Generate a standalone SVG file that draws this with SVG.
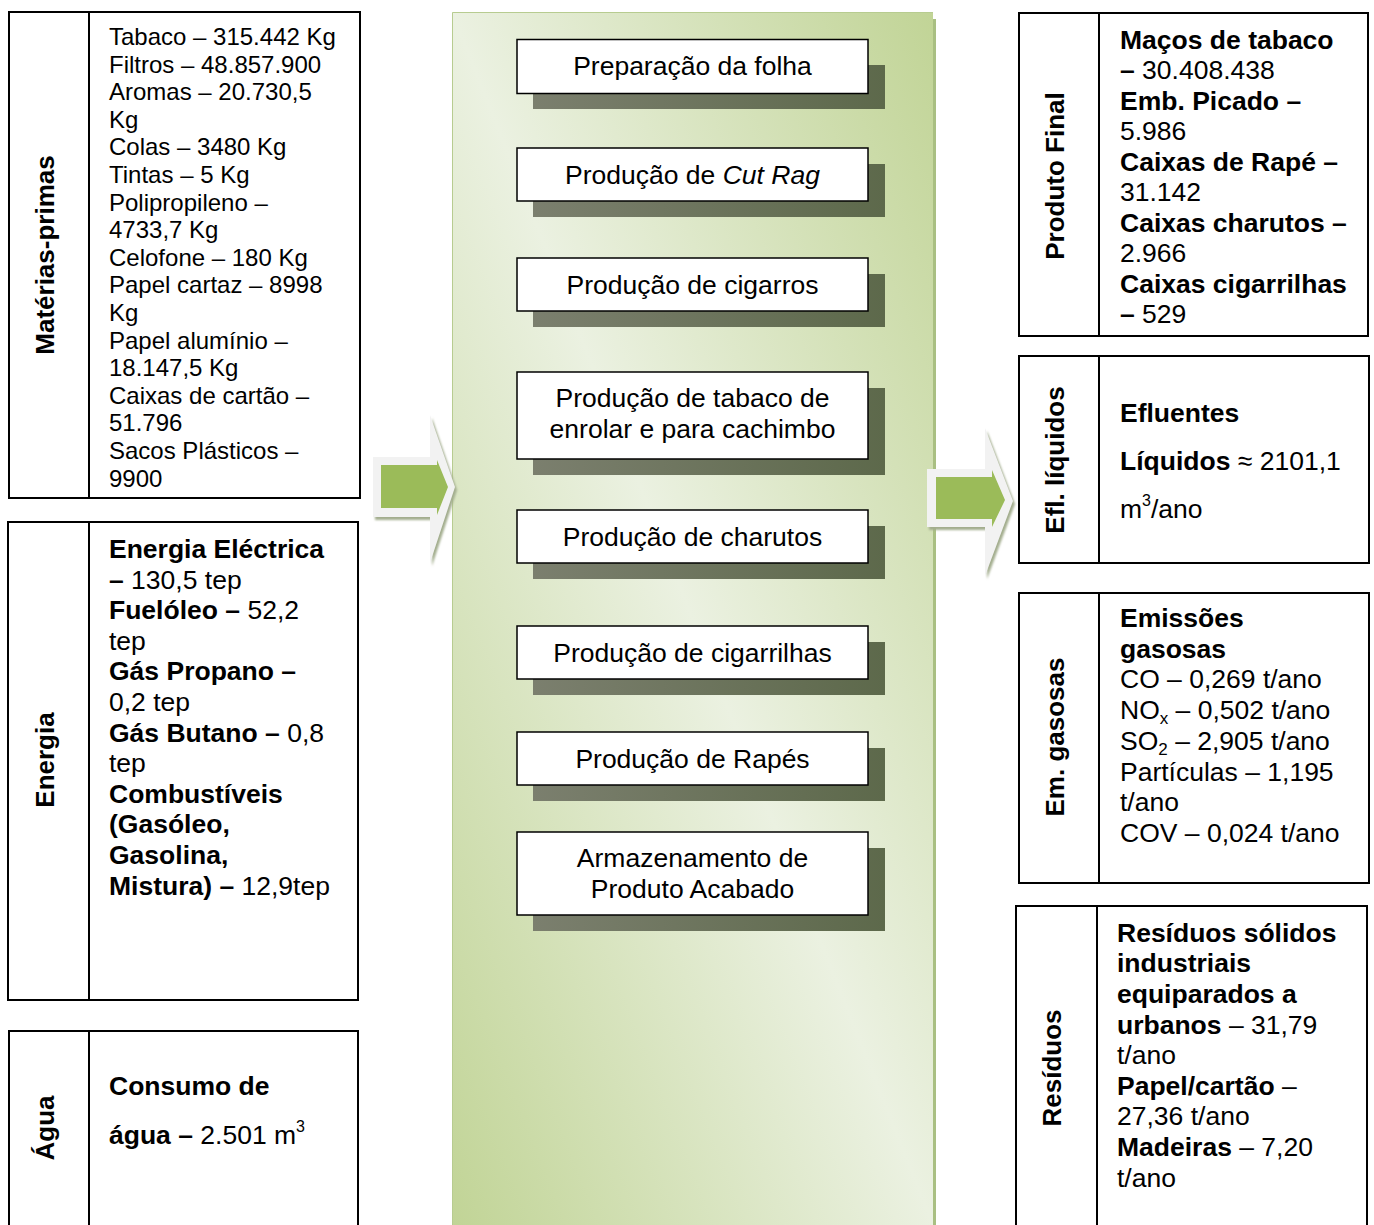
<svg xmlns="http://www.w3.org/2000/svg" width="1374" height="1225" viewBox="0 0 1374 1225">
  <defs>
    <!-- diagonal band: light along the TL-BR diagonal, green towards the other corners -->
    <linearGradient id="panelFill" x1="1" y1="0" x2="0" y2="1">
      <stop offset="0" stop-color="#c1d496"/>
      <stop offset="0.5" stop-color="#ebf1e1"/>
      <stop offset="1" stop-color="#c1d496"/>
    </linearGradient>
    <linearGradient id="shadowFill" x1="0" y1="0" x2="1" y2="0">
      <stop offset="0" stop-color="#7b7f6e"/>
      <stop offset="1" stop-color="#5d694b"/>
    </linearGradient>
    <filter id="soft" x="-10%" y="-10%" width="120%" height="120%">
      <feGaussianBlur stdDeviation="0.8"/>
    </filter>
  </defs>
  <style>
    text { font-family: "Liberation Sans", Arial, Helvetica, sans-serif; fill: #000; }
    .frame { fill: #fff; stroke: #000; stroke-width: 2; }
    .rule { stroke: #000; stroke-width: 2; }
    .lbl { font-size: 26px; font-weight: bold; text-anchor: middle; }
    .t24 { font-size: 24px; }
    .t26 { font-size: 26.5px; }
    .b { font-weight: bold; }
    .step { fill: #fff; stroke: #000; stroke-width: 1.5; }
    .stepText { font-size: 26.5px; text-anchor: middle; }
    .shadow { fill: url(#shadowFill); }
    .arrowShadow { fill: #a3ad8e; }
    .arrowOuter { fill: #f2f2f2; }
    .arrowInner { fill: #9bbb59; }
  </style>

  <rect width="1374" height="1225" fill="#fff"/>

  <!-- central process panel -->
  <g id="process-panel">
    <rect x="933" y="19" width="3" height="1206" fill="#a9bf82"/>
    <rect x="452" y="12" width="481" height="1213" fill="url(#panelFill)"/>
    <path d="M452.5,1225 V12.5 H933" fill="none" stroke="#b7cc90" stroke-width="1"/>
  </g>

  <!-- process steps -->
  <g id="step-1">
    <rect class="shadow" x="533" y="65" width="352" height="44"/>
    <rect class="step" x="517" y="39.5" width="351" height="54"/>
    <text class="stepText" x="692.5" y="75">Preparação da folha</text>
  </g>
  <g id="step-2">
    <rect class="shadow" x="533" y="164" width="352" height="53"/>
    <rect class="step" x="517" y="148" width="351" height="53"/>
    <text class="stepText" x="692.5" y="183.5">Produção de <tspan font-style="italic">Cut Rag</tspan></text>
  </g>
  <g id="step-3">
    <rect class="shadow" x="533" y="274" width="352" height="53"/>
    <rect class="step" x="517" y="258" width="351" height="53"/>
    <text class="stepText" x="692.5" y="293.5">Produção de cigarros</text>
  </g>
  <g id="step-4">
    <rect class="shadow" x="533" y="388" width="352" height="87"/>
    <rect class="step" x="517" y="372" width="351" height="87"/>
    <text class="stepText" x="692.5" y="407">Produção de tabaco de</text>
    <text class="stepText" x="692.5" y="438">enrolar e para cachimbo</text>
  </g>
  <g id="step-5">
    <rect class="shadow" x="533" y="526" width="352" height="53"/>
    <rect class="step" x="517" y="510" width="351" height="53"/>
    <text class="stepText" x="692.5" y="545.5">Produção de charutos</text>
  </g>
  <g id="step-6">
    <rect class="shadow" x="533" y="642" width="352" height="53"/>
    <rect class="step" x="517" y="626" width="351" height="53"/>
    <text class="stepText" x="692.5" y="661.5">Produção de cigarrilhas</text>
  </g>
  <g id="step-7">
    <rect class="shadow" x="533" y="748" width="352" height="53"/>
    <rect class="step" x="517" y="732" width="351" height="53"/>
    <text class="stepText" x="692.5" y="767.5">Produção de Rapés</text>
  </g>
  <g id="step-8">
    <rect class="shadow" x="533" y="848" width="352" height="83"/>
    <rect class="step" x="517" y="832" width="351" height="83"/>
    <text class="stepText" x="692.5" y="867">Armazenamento de</text>
    <text class="stepText" x="692.5" y="898">Produto Acabado</text>
  </g>

  <!-- input / output block arrows -->
  <g id="connectors">
    <g id="arrow-in">
      <path class="arrowShadow" filter="url(#soft)" transform="translate(2,3)" d="M373,457 H430 V415 L455,487 L430,563 V517 H373 Z"/>
      <path class="arrowOuter" d="M373,457 H430 V415 L455,487 L430,563 V517 H373 Z"/>
      <path class="arrowInner" d="M381,465 H437 V460 L448,487 L437,515 V508 H381 Z"/>
    </g>
    <g id="arrow-out">
      <path class="arrowShadow" filter="url(#soft)" transform="translate(2,3)" d="M927,469 H985 V428 L1013,501 L985,576 V527 H927 Z"/>
      <path class="arrowOuter" d="M927,469 H985 V428 L1013,501 L985,576 V527 H927 Z"/>
      <path class="arrowInner" d="M936,477 H992 V470 L1005,500 L992,527 V519 H936 Z"/>
    </g>
  </g>

  <!-- inputs -->
  <g id="materias-primas">
    <rect class="frame" x="9" y="12" width="351" height="486"/>
    <line class="rule" x1="89" y1="12" x2="89" y2="498"/>
    <text class="lbl" transform="translate(54,255) rotate(-90)">Matérias-primas</text>
    <g class="t24">
      <text x="109" y="45">Tabaco – 315.442 Kg</text>
      <text x="109" y="72.6">Filtros – 48.857.900</text>
      <text x="109" y="100.2">Aromas – 20.730,5</text>
      <text x="109" y="127.8">Kg</text>
      <text x="109" y="155.4">Colas – 3480 Kg</text>
      <text x="109" y="183">Tintas – 5 Kg</text>
      <text x="109" y="210.6">Polipropileno –</text>
      <text x="109" y="238.2">4733,7 Kg</text>
      <text x="109" y="265.8">Celofone – 180 Kg</text>
      <text x="109" y="293.4">Papel cartaz – 8998</text>
      <text x="109" y="321">Kg</text>
      <text x="109" y="348.6">Papel alumínio –</text>
      <text x="109" y="376.2">18.147,5 Kg</text>
      <text x="109" y="403.8">Caixas de cartão –</text>
      <text x="109" y="431.4">51.796</text>
      <text x="109" y="459">Sacos Plásticos –</text>
      <text x="109" y="486.6">9900</text>
    </g>
  </g>

  <g id="energia">
    <rect class="frame" x="8" y="522" width="350" height="478"/>
    <line class="rule" x1="89" y1="522" x2="89" y2="1000"/>
    <text class="lbl" transform="translate(54,760) rotate(-90)">Energia</text>
    <g class="t26">
      <text x="109" y="558" class="b">Energia Eléctrica</text>
      <text x="109" y="588.6"><tspan class="b">–</tspan> 130,5 tep</text>
      <text x="109" y="619.2"><tspan class="b">Fuelóleo –</tspan> 52,2</text>
      <text x="109" y="649.8">tep</text>
      <text x="109" y="680.4" class="b">Gás Propano –</text>
      <text x="109" y="711">0,2 tep</text>
      <text x="109" y="741.6"><tspan class="b">Gás Butano –</tspan> 0,8</text>
      <text x="109" y="772.2">tep</text>
      <text x="109" y="802.8" class="b">Combustíveis</text>
      <text x="109" y="833.4" class="b">(Gasóleo,</text>
      <text x="109" y="864" class="b">Gasolina,</text>
      <text x="109" y="894.6"><tspan class="b">Mistura) –</tspan> 12,9tep</text>
    </g>
  </g>

  <g id="agua">
    <rect class="frame" x="9" y="1031" width="349" height="220"/>
    <line class="rule" x1="89" y1="1031" x2="89" y2="1251"/>
    <text class="lbl" transform="translate(54,1128) rotate(-90)">Água</text>
    <g class="t26">
      <text x="109" y="1095" class="b">Consumo de</text>
      <text x="109" y="1144"><tspan class="b">água –</tspan> 2.501 m<tspan font-size="16" dy="-12">3</tspan></text>
    </g>
  </g>

  <!-- outputs -->
  <g id="produto-final">
    <rect class="frame" x="1019" y="13" width="349" height="323"/>
    <line class="rule" x1="1099" y1="13" x2="1099" y2="336"/>
    <text class="lbl" transform="translate(1064,176) rotate(-90)">Produto Final</text>
    <g class="t26">
      <text x="1120" y="48.5" class="b">Maços de tabaco</text>
      <text x="1120" y="79"><tspan class="b">–</tspan> 30.408.438</text>
      <text x="1120" y="109.5" class="b">Emb. Picado –</text>
      <text x="1120" y="140">5.986</text>
      <text x="1120" y="170.5" class="b">Caixas de Rapé –</text>
      <text x="1120" y="201">31.142</text>
      <text x="1120" y="231.5" class="b">Caixas charutos –</text>
      <text x="1120" y="262">2.966</text>
      <text x="1120" y="292.5" class="b">Caixas cigarrilhas</text>
      <text x="1120" y="323"><tspan class="b">–</tspan> 529</text>
    </g>
  </g>

  <g id="efluentes-liquidos">
    <rect class="frame" x="1019" y="356" width="350" height="207"/>
    <line class="rule" x1="1099" y1="356" x2="1099" y2="563"/>
    <text class="lbl" transform="translate(1064,460) rotate(-90)">Efl. líquidos</text>
    <g class="t26">
      <text x="1120" y="422" class="b">Efluentes</text>
      <text x="1120" y="470"><tspan class="b">Líquidos</tspan> ≈ 2101,1</text>
      <text x="1120" y="518">m<tspan font-size="16" dy="-12">3</tspan><tspan dy="12">/ano</tspan></text>
    </g>
  </g>

  <g id="emissoes-gasosas">
    <rect class="frame" x="1019" y="593" width="350" height="290"/>
    <line class="rule" x1="1099" y1="593" x2="1099" y2="883"/>
    <text class="lbl" transform="translate(1064,737) rotate(-90)">Em. gasosas</text>
    <g class="t26">
      <text x="1120" y="627" class="b">Emissões</text>
      <text x="1120" y="657.7" class="b">gasosas</text>
      <text x="1120" y="688.4">CO – 0,269 t/ano</text>
      <text x="1120" y="719.1">NO<tspan font-size="17" dy="5">x</tspan><tspan dy="-5"> – 0,502 t/ano</tspan></text>
      <text x="1120" y="749.8">SO<tspan font-size="17" dy="5">2</tspan><tspan dy="-5"> – 2,905 t/ano</tspan></text>
      <text x="1120" y="780.5">Partículas – 1,195</text>
      <text x="1120" y="811.2">t/ano</text>
      <text x="1120" y="841.9">COV – 0,024 t/ano</text>
    </g>
  </g>

  <g id="residuos">
    <rect class="frame" x="1016" y="906" width="351" height="345"/>
    <line class="rule" x1="1097" y1="906" x2="1097" y2="1251"/>
    <text class="lbl" transform="translate(1061,1068) rotate(-90)">Resíduos</text>
    <g class="t26">
      <text x="1117" y="941.7" class="b">Resíduos sólidos</text>
      <text x="1117" y="972.3" class="b">industriais</text>
      <text x="1117" y="1002.9" class="b">equiparados a</text>
      <text x="1117" y="1033.5"><tspan class="b">urbanos</tspan> – 31,79</text>
      <text x="1117" y="1064.1">t/ano</text>
      <text x="1117" y="1094.7"><tspan class="b">Papel/cartão</tspan> –</text>
      <text x="1117" y="1125.3">27,36 t/ano</text>
      <text x="1117" y="1155.9"><tspan class="b">Madeiras</tspan> – 7,20</text>
      <text x="1117" y="1186.5">t/ano</text>
    </g>
  </g>
</svg>
